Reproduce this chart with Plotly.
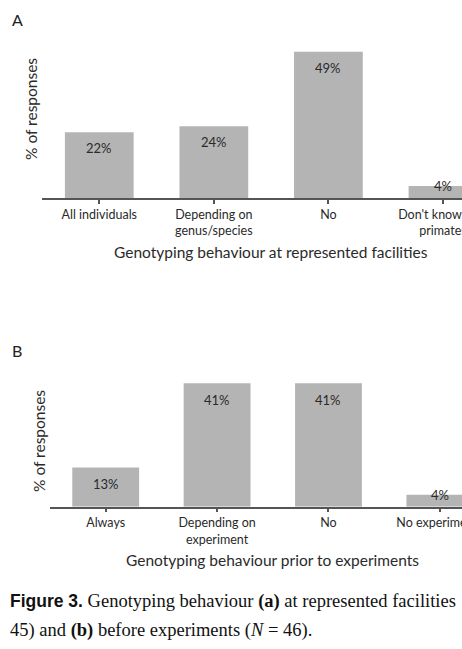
import plotly.graph_objects as go

# ---- data ----
cats_a = ["All individuals", "Depending on<br>genus/species", "No", "Don't know / no<br>primates"]
vals_a = [22, 24, 49, 4]
labels_a = ["22%", "24%", "49%", "4%"]

cats_b = ["Always", "Depending on<br>experiment", "No", "No experiments"]
vals_b = [13, 41, 41, 4]
labels_b = ["13%", "41%", "41%", "4%"]

W, H = 462, 649
BAR = "#b4b4b4"
AX = "#555555"
TXT = "#2a2a2a"
FONT = "Lato"

def px(x):
    return x / W

def py(y):
    return 1 - y / H

fig = go.Figure()
fig.add_trace(go.Bar(x=list(range(len(cats_a))), y=vals_a, marker=dict(color=BAR, line=dict(width=0)),
                     width=0.6, xaxis="x", yaxis="y", hoverinfo="skip"))
fig.add_trace(go.Bar(x=list(range(len(cats_b))), y=vals_b, marker=dict(color=BAR, line=dict(width=0)),
                     width=0.6, xaxis="x2", yaxis="y2", hoverinfo="skip"))

annotations = []
for i, (v, t) in enumerate(zip(vals_a, labels_a)):
    annotations.append(dict(x=i, y=v, xref="x", yref="y", text=t, showarrow=False,
                            yanchor="middle", yshift=-16 if v > 10 else 0,
                            font=dict(family=FONT, size=13, color=TXT)))
for i, (v, t) in enumerate(zip(vals_b, labels_b)):
    annotations.append(dict(x=i, y=v, xref="x2", yref="y2", text=t, showarrow=False,
                            yanchor="middle", yshift=-16.5 if v > 10 else 0,
                            font=dict(family=FONT, size=13, color=TXT)))

# panel letters
annotations.append(dict(x=px(17), y=py(20), xref="paper", yref="paper", text="A", showarrow=False,
                        xanchor="center", yanchor="middle", font=dict(family=FONT, size=16, color="#222")))
annotations.append(dict(x=px(17), y=py(350), xref="paper", yref="paper", text="B", showarrow=False,
                        xanchor="center", yanchor="middle", font=dict(family=FONT, size=16, color="#222")))
# y titles
annotations.append(dict(x=px(31), y=py(109), xref="paper", yref="paper", text="% of responses", showarrow=False,
                        textangle=-90, xanchor="center", yanchor="middle", font=dict(family=FONT, size=15.5, color=TXT)))
annotations.append(dict(x=px(39), y=py(441), xref="paper", yref="paper", text="% of responses", showarrow=False,
                        textangle=-90, xanchor="center", yanchor="middle", font=dict(family=FONT, size=15.5, color=TXT)))
# x titles
annotations.append(dict(x=px(271), y=py(252), xref="paper", yref="paper",
                        text="Genotyping behaviour at represented facilities", showarrow=False,
                        xanchor="center", yanchor="middle", font=dict(family=FONT, size=15.5, color=TXT)))
annotations.append(dict(x=px(272.5), y=py(560), xref="paper", yref="paper",
                        text="Genotyping behaviour prior to experiments", showarrow=False,
                        xanchor="center", yanchor="middle", font=dict(family=FONT, size=15.5, color=TXT)))
# caption
annotations.append(dict(x=px(8), y=py(601), xref="paper", yref="paper",
                        text="<span style=\"font-family:'Liberation Sans';font-weight:bold;font-size:17.5px\">Figure 3.</span> Genotyping behaviour <b>(a)</b> at represented facilities",
                        showarrow=False, xanchor="left", yanchor="middle",
                        font=dict(family="Liberation Serif", size=18.5, color="#111")))
annotations.append(dict(x=px(8), y=py(630), xref="paper", yref="paper",
                        text="45) and <b>(b)</b> before experiments (<i>N</i> = 46).",
                        showarrow=False, xanchor="left", yanchor="middle",
                        font=dict(family="Liberation Serif", size=18.5, color="#111")))

xcommon = dict(tickmode="array", showline=True, linecolor=AX, linewidth=1.5,
               ticks="outside", ticklen=4, tickcolor=AX, tickwidth=1.5, tickson="boundaries",
               showgrid=False, zeroline=False, fixedrange=True, ticklabeloverflow="allow",
               automargin=False, tickfont=dict(family=FONT, size=12.5, color=TXT))
ycommon = dict(showline=False, showticklabels=False, ticks="", showgrid=False, zeroline=False,
               fixedrange=True, automargin=False)

fig.update_layout(
    width=W, height=H, margin=dict(l=0, r=0, t=0, b=0, autoexpand=False),
    paper_bgcolor="white", plot_bgcolor="white", showlegend=False,
    xaxis=dict(domain=[px(42), 1], range=[-0.5, (462 - 99.5) / 114.5], anchor="y",
               tickvals=list(range(len(cats_a))), ticktext=cats_a, **xcommon),
    yaxis=dict(domain=[py(198), py(20)], range=[0, 178 / 2.986], anchor="x", **ycommon),
    xaxis2=dict(domain=[px(50), 1], range=[-0.5, (462 - 106) / 111.3], anchor="y2",
                tickvals=list(range(len(cats_b))), ticktext=cats_b, **xcommon),
    yaxis2=dict(domain=[py(506.7), py(375.3)], range=[0, 131.4 / 3.01], anchor="x2", **ycommon),
    annotations=annotations,
)

fig.write_html("out.html", config={"displayModeBar": False})
